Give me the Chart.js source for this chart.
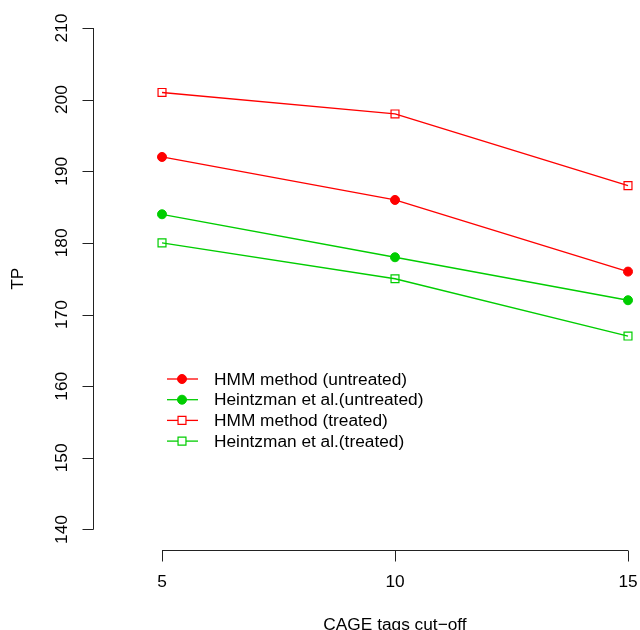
<!DOCTYPE html>
<html>
<head>
<meta charset="utf-8">
<script src="https://cdn.jsdelivr.net/npm/chart.js@4"></script>
<style>
  body { margin: 0; background: #fff; }
  canvas { display: block; }
</style>
</head>
<body>
<canvas id="tpChart" width="640" height="630"></canvas>
<script>
// CAGE tag cut-off values on the x axis
const cutoffs = [5, 10, 15];
const xTicks = [5, 10, 15];
const yTicks = [140, 150, 160, 170, 180, 190, 200, 210];

const hmmUntreated = [192, 186, 176];
const heintzmanUntreated = [184, 178, 172];
const hmmTreated = [201, 198, 188];
const heintzmanTreated = [180, 175, 167];

const seriesLabels = [
  'HMM method (untreated)',
  'Heintzman et al.(untreated)',
  'HMM method (treated)',
  'Heintzman et al.(treated)'
];

const RED = '#ff0000';
const GREEN = '#00cd00';
const FONT = '17.3px "Liberation Sans", Arial, Helvetica, sans-serif';

function toPoints(values) {
  return values.map((v, i) => ({ x: cutoffs[i], y: v }));
}

function series(label, values, color, filled) {
  return {
    label: label,
    data: toPoints(values),
    borderColor: color,
    backgroundColor: filled ? color : '#ffffff',
    pointBackgroundColor: filled ? color : 'rgba(0,0,0,0)',
    pointBorderColor: color,
    pointStyle: filled ? 'circle' : 'rect',
    pointRadius: filled ? 4.5 : 5.6,
    pointBorderWidth: filled ? 1 : 1.2,
    borderWidth: 1.3,
    tension: 0,
    fill: false
  };
}

// R style axes, titles and legend drawn from the chart's own scales
const baseGraphics = {
  id: 'baseGraphics',
  afterDraw(chart) {
    const ctx = chart.ctx;
    const xs = chart.scales.x;
    const ys = chart.scales.y;
    ctx.save();
    ctx.strokeStyle = '#222';
    ctx.lineWidth = 1;
    ctx.fillStyle = '#000';
    ctx.font = FONT;

    // y axis
    const ax = Math.round(chart.chartArea.left) + 0.5;
    const yTop = ys.getPixelForValue(yTicks[yTicks.length - 1]);
    const yBot = ys.getPixelForValue(yTicks[0]);
    ctx.beginPath();
    ctx.moveTo(ax, yTop);
    ctx.lineTo(ax, yBot);
    yTicks.forEach(t => {
      const p = Math.round(ys.getPixelForValue(t)) + 0.5;
      ctx.moveTo(ax, p);
      ctx.lineTo(ax - 11, p);
    });
    ctx.stroke();
    yTicks.forEach(t => {
      const p = ys.getPixelForValue(t);
      ctx.save();
      ctx.translate(62, p);
      ctx.rotate(-Math.PI / 2);
      ctx.textAlign = 'center';
      ctx.textBaseline = 'middle';
      ctx.fillText(String(t), 0, 0);
      ctx.restore();
    });

    // x axis
    const ay = Math.round(chart.chartArea.bottom) + 0.5;
    const xL = xs.getPixelForValue(xTicks[0]);
    const xR = xs.getPixelForValue(xTicks[xTicks.length - 1]);
    ctx.beginPath();
    ctx.moveTo(xL, ay);
    ctx.lineTo(xR, ay);
    xTicks.forEach(t => {
      const p = Math.round(xs.getPixelForValue(t)) + 0.5;
      ctx.moveTo(p, ay);
      ctx.lineTo(p, ay + 11);
    });
    ctx.stroke();
    ctx.textAlign = 'center';
    ctx.textBaseline = 'middle';
    xTicks.forEach(t => {
      ctx.fillText(String(t), xs.getPixelForValue(t), 582);
    });

    // axis titles
    ctx.fillText('CAGE tags cut\u2212off', (xL + xR) / 2, 625);
    ctx.save();
    ctx.translate(18, (yTop + yBot) / 2);
    ctx.rotate(-Math.PI / 2);
    ctx.fillText('TP', 0, 0);
    ctx.restore();

    // legend
    const lx = 167, ly = 379, rowH = 20.7;
    chart.data.datasets.forEach((ds, i) => {
      const y = ly + i * rowH;
      ctx.strokeStyle = ds.borderColor;
      ctx.lineWidth = ds.borderWidth;
      ctx.beginPath();
      ctx.moveTo(lx, y);
      ctx.lineTo(lx + 31, y);
      ctx.stroke();
      ctx.fillStyle = ds.pointBackgroundColor;
      ctx.strokeStyle = ds.pointBorderColor;
      ctx.lineWidth = ds.pointBorderWidth;
      ctx.beginPath();
      if (ds.pointStyle === 'circle') {
        ctx.arc(lx + 15, y, ds.pointRadius, 0, Math.PI * 2);
        ctx.fill();
      } else {
        const s = ds.pointRadius * Math.SQRT1_2;
        ctx.fillStyle = '#ffffff';
        ctx.rect(lx + 15 - s, y - s, 2 * s, 2 * s);
        ctx.fill();
      }
      ctx.stroke();
      ctx.fillStyle = '#000';
      ctx.textAlign = 'left';
      ctx.fillText(ds.label, 214, y + 1);
    });
    ctx.restore();
  }
};

new Chart(document.getElementById('tpChart'), {
  type: 'line',
  data: {
    datasets: [
      series(seriesLabels[0], hmmUntreated, RED, true),
      series(seriesLabels[1], heintzmanUntreated, GREEN, true),
      series(seriesLabels[2], hmmTreated, RED, false),
      series(seriesLabels[3], heintzmanTreated, GREEN, false)
    ]
  },
  options: {
    responsive: false,
    animation: false,
    layout: { autoPadding: false, padding: { left: 93, right: 0, top: 0, bottom: 80 } },
    plugins: { legend: { display: false }, tooltip: { enabled: false } },
    scales: {
      x: { type: 'linear', min: 3.519, max: 15.2575, display: false },
      y: { type: 'linear', min: 137.138, max: 213.909, display: false }
    },
    elements: { line: { borderJoinStyle: 'round' } },
    clip: false
  },
  plugins: [baseGraphics]
});
</script>
</body>
</html>
